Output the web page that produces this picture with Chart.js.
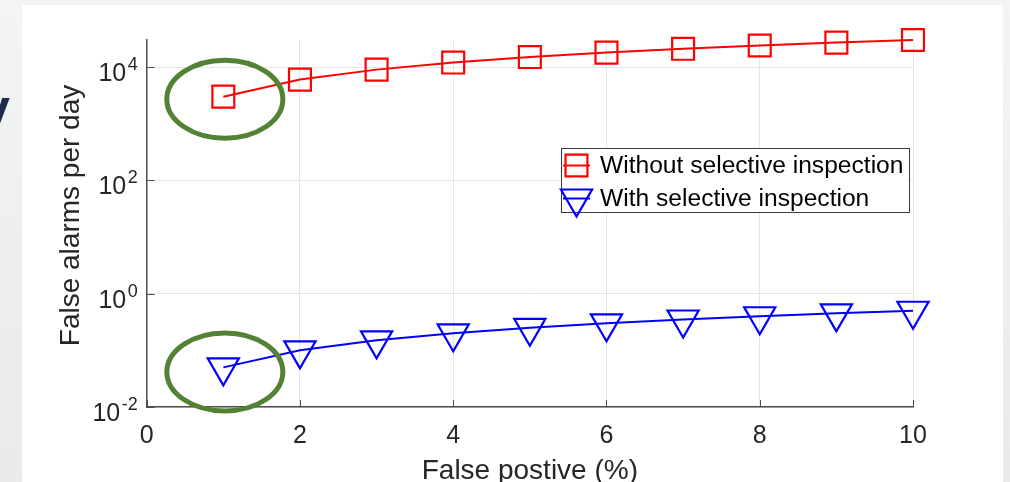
<!DOCTYPE html>
<html>
<head>
<meta charset="utf-8">
<script src="https://cdn.jsdelivr.net/npm/chart.js@4.4.1/dist/chart.umd.min.js"></script>
<style>
  html, body { margin: 0; padding: 0; width: 1010px; height: 482px; overflow: hidden; }
  body { position: relative; background: linear-gradient(180deg, #f3f4f4 0%, #e8eaeb 100%); }
  #slideTitle { position: absolute; left: -19px; top: 77px; font: bold 52px "Liberation Sans", Arial, sans-serif; color: #1d2b4c; }
  #panel { position: absolute; left: 22px; top: 5px; width: 981px; height: 477px; background: #ffffff; }
  #chart { position: absolute; left: 0; top: 0; }
</style>
</head>
<body>
<div id="slideTitle">y</div>
<div id="panel"></div>
<canvas id="chart" width="1010" height="482"></canvas>
<script>
// False-positive rate (%) on the x axis
const falsePositive = [1, 2, 3, 4, 5, 6, 7, 8, 9, 10];
// False alarms per day, without and with selective inspection
const alarmsWithout = [3000, 6000, 9000, 12000, 15000, 18000, 21000, 24000, 27000, 30000];
const alarmsWith = [0.05, 0.1, 0.15, 0.2, 0.25, 0.3, 0.35, 0.4, 0.45, 0.5];
const seriesLabels = ['Without selective inspection', 'With selective inspection'];
const xTickValues = [0, 2, 4, 6, 8, 10];
const yTickExponents = [-2, 0, 2, 4];
const xTitle = 'False postive (%)';
const yTitle = 'False alarms per day';

const FONT = '"Liberation Sans", Arial, Helvetica, sans-serif';
const AXIS_COLOR = '#4d4d4d';
const GRID_COLOR = '#e6e6e6';
const TEXT_COLOR = '#262626';
const HIGHLIGHT = '#548235';

const toPoints = ys => falsePositive.map((x, i) => ({ x: x, y: ys[i] }));

// Inward tick marks, superscripted decade labels, y title, highlight rings and the boxed legend
const decorations = {
  id: 'decorations',
  beforeDatasetsDraw(chart) {
    const { ctx, chartArea: a, scales: { x, y } } = chart;
    ctx.save();
    ctx.strokeStyle = AXIS_COLOR;
    ctx.lineWidth = 1;
    ctx.beginPath();
    xTickValues.forEach(v => {
      const px = Math.round(x.getPixelForValue(v)) + 0.5;
      ctx.moveTo(px, a.bottom);
      ctx.lineTo(px, a.bottom - 7);
    });
    yTickExponents.forEach(e => {
      const py = Math.round(y.getPixelForValue(Math.pow(10, e))) + 0.5;
      ctx.moveTo(a.left, py);
      ctx.lineTo(a.left + 8, py);
    });
    ctx.stroke();

    ctx.fillStyle = TEXT_COLOR;
    ctx.textAlign = 'right';
    ctx.textBaseline = 'alphabetic';
    const right = a.left - 9;
    yTickExponents.forEach(e => {
      const py = y.getPixelForValue(Math.pow(10, e));
      const exp = String(e);
      ctx.font = '18px ' + FONT;
      const ew = ctx.measureText(exp).width;
      ctx.fillText(exp, right, py + 3);
      ctx.font = '25px ' + FONT;
      ctx.fillText('10', right - ew - 1.5, py + 14);
    });

    // rotated y-axis title
    ctx.save();
    ctx.translate(79, (a.top + a.bottom) / 2 - 8);
    ctx.rotate(-Math.PI / 2);
    ctx.font = '28px ' + FONT;
    ctx.textAlign = 'center';
    ctx.textBaseline = 'alphabetic';
    ctx.fillText(yTitle, 0, 0);
    ctx.restore();
    ctx.restore();
  },
  afterDatasetsDraw(chart) {
    const { ctx, scales: { x, y } } = chart;
    ctx.save();
    // rings around the first point of each series
    ctx.strokeStyle = HIGHLIGHT;
    ctx.lineWidth = 5;
    [[alarmsWithout, 2.5], [alarmsWith, 4.5]].forEach(([ys, dy]) => {
      const cx = x.getPixelForValue(falsePositive[0]) + 1.5;
      const cy = y.getPixelForValue(ys[0]) + dy;
      ctx.beginPath();
      ctx.ellipse(cx, cy, 58, 39, 0, 0, Math.PI * 2);
      ctx.stroke();
    });

    // legend
    const box = { left: 561.5, top: 148.5, rowH: 33, textX: 600 };
    ctx.font = '24.6px ' + FONT;
    const widths = chart.data.datasets.map(d => ctx.measureText(d.label).width);
    const boxW = box.textX + Math.max(...widths) + 6 - box.left;
    const boxH = 64;
    ctx.fillStyle = '#ffffff';
    ctx.fillRect(box.left, box.top, boxW, boxH);
    ctx.strokeStyle = '#3a3a3a';
    ctx.lineWidth = 1;
    ctx.strokeRect(box.left, box.top, boxW, boxH);
    chart.data.datasets.forEach((d, i) => {
      const cy = box.top + 17 + i * box.rowH;
      ctx.strokeStyle = d.borderColor;
      ctx.lineWidth = d.borderWidth;
      ctx.beginPath();
      ctx.moveTo(563, cy);
      ctx.lineTo(590, cy);
      ctx.stroke();
      ctx.fillStyle = 'rgba(0,0,0,0)';
      ctx.lineWidth = d.pointBorderWidth;
      Chart.helpers.drawPoint(ctx, {
        pointStyle: d.pointStyle, rotation: d.pointRotation || 0,
        radius: d.pointRadius, borderWidth: d.pointBorderWidth
      }, 576.5, cy);
      ctx.fillStyle = '#000000';
      ctx.textAlign = 'left';
      ctx.textBaseline = 'middle';
      ctx.fillText(d.label, box.textX, cy + 1);
    });
    ctx.restore();
  }
};

new Chart(document.getElementById('chart'), {
  type: 'line',
  data: {
    datasets: [
      {
        label: seriesLabels[0], data: toPoints(alarmsWithout),
        borderColor: '#ff0000', backgroundColor: 'rgba(0,0,0,0)', borderWidth: 2,
        pointStyle: 'rect', pointRadius: 15.5, pointBorderWidth: 2.2,
        pointBorderColor: '#ff0000', pointBackgroundColor: 'rgba(0,0,0,0)',
        tension: 0, clip: false
      },
      {
        label: seriesLabels[1], data: toPoints(alarmsWith),
        borderColor: '#0000ff', backgroundColor: 'rgba(0,0,0,0)', borderWidth: 2,
        pointStyle: 'triangle', pointRotation: 180, pointRadius: 18, pointBorderWidth: 2.2,
        pointBorderColor: '#0000ff', pointBackgroundColor: 'rgba(0,0,0,0)',
        tension: 0, clip: false
      }
    ]
  },
  options: {
    responsive: false,
    animation: false,
    devicePixelRatio: 1,
    layout: { padding: { left: 0, right: 97, top: 40, bottom: 0 } },
    plugins: { legend: { display: false }, tooltip: { enabled: false } },
    scales: {
      x: {
        type: 'linear', min: 0, max: 10,
        afterBuildTicks: s => { s.ticks = xTickValues.map(v => ({ value: v })); },
        afterFit: s => { s.height = 75; },
        grid: { color: GRID_COLOR, drawTicks: false },
        border: { color: AXIS_COLOR, width: 1.5 },
        ticks: { font: { family: FONT, size: 25 }, color: TEXT_COLOR, padding: 14, maxRotation: 0 },
        title: { display: true, text: xTitle, color: TEXT_COLOR,
                 font: { family: FONT, size: 28, lineHeight: 0.8 }, padding: { top: 0, bottom: 0 } }
      },
      y: {
        type: 'logarithmic', min: 0.01, max: 30000,
        afterBuildTicks: s => { s.ticks = yTickExponents.map(e => ({ value: Math.pow(10, e) })); },
        afterFit: s => { s.width = 146.7; },
        grid: { color: GRID_COLOR, drawTicks: false },
        border: { color: AXIS_COLOR, width: 1.5 },
        ticks: { display: false },
        title: { display: false }
      }
    }
  },
  plugins: [decorations]
});
</script>
</body>
</html>
